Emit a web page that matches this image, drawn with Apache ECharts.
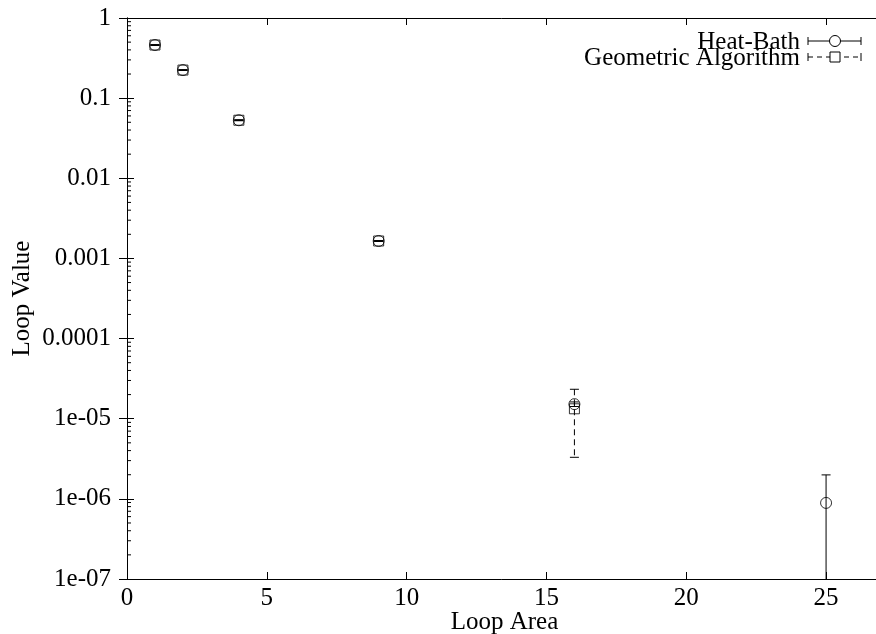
<!DOCTYPE html>
<html>
<head>
<meta charset="utf-8">
<script src="https://cdn.jsdelivr.net/npm/echarts@6/dist/echarts.min.js"></script>
<style>html,body{margin:0;padding:0;background:#fff;}#c{width:876px;height:634px;}</style>
</head>
<body>
<div id="c"></div>
<script>
// ---- data ----
var loopArea = [1, 2, 4, 9, 16, 25];
var heatBath = [0.46, 0.224, 0.053, 0.00165, 1.52e-5, 8.9e-7];
var heatBathErr = [0.004, 0.002, 0.0006, 0.00002, 0.1e-5, 1.1e-6];
var geoArea = [1, 2, 4, 9, 16];
var geometric = [0.46, 0.224, 0.053, 0.00165, 1.33e-5];
var geometricErr = [0.004, 0.002, 0.0006, 0.00002, 1.0e-5];
var xTicks = [0, 5, 10, 15, 20, 25];
var yTickLabels = ["1e-07", "1e-06", "1e-05", "0.0001", "0.001", "0.01", "0.1", "1"];
var minorMultipliers = [2, 3, 4, 5, 6, 7, 8, 9];

var xMin = 0, xMax = 27, yMin = 1e-7, yMax = 1;
var FONT = 'Liberation Serif';
var FS = 25;

function pairs(xs, ys) { return xs.map(function (x, i) { return [x, ys[i]]; }); }
function triples(xs, ys, es) { return xs.map(function (x, i) { return [x, ys[i], es[i]]; }); }

var minorVals = [];
for (var d = -7; d < 0; d++) {
  minorMultipliers.forEach(function (m) { minorVals.push([0, m * Math.pow(10, d)]); });
}

function errRenderer(dash) {
  return function (params, api) {
    var x = api.value(0), v = api.value(1), e = api.value(2);
    var hi = Math.min(v + e, yMax), lo = v - e;
    var clipped = lo <= yMin;
    var top = api.coord([x, hi]);
    var bot = api.coord([x, clipped ? yMin : lo]);
    var cw = 4.5;
    var st = { stroke: '#000', lineWidth: 1, lineDash: dash };
    var stc = { stroke: '#000', lineWidth: 1 };
    var ch = [
      { type: 'line', shape: { x1: top[0], y1: top[1], x2: bot[0], y2: bot[1] }, style: st },
      { type: 'line', shape: { x1: top[0] - cw, y1: top[1], x2: top[0] + cw, y2: top[1] }, style: stc }
    ];
    if (!clipped) ch.push({ type: 'line', shape: { x1: bot[0] - cw, y1: bot[1], x2: bot[0] + cw, y2: bot[1] }, style: stc });
    return { type: 'group', children: ch };
  };
}

function minorRender(params, api) {
  var v = api.value(1);
  var l = api.coord([xMin, v]);
  var r = api.coord([xMax, v]);
  var st = { stroke: '#000', lineWidth: 1 };
  return { type: 'group', children: [
    { type: 'line', shape: { x1: l[0], y1: l[1], x2: l[0] + 4, y2: l[1] }, style: st },
    { type: 'line', shape: { x1: r[0], y1: r[1], x2: r[0] - 4, y2: r[1] }, style: st }
  ] };
}

var axisTextStyle = { fontFamily: FONT, fontSize: FS, color: '#000' };
var lineStyle = { color: '#000', width: 1 };

var chart = echarts.init(document.getElementById('c'), null, { renderer: 'canvas' });
chart.setOption({
  animation: false,
  backgroundColor: '#fff',
  grid: { left: 127, top: 18, width: 755, bottom: 55, containLabel: false, outerBoundsMode: 'none' },
  xAxis: [
    {
      type: 'value', min: xMin, max: xMax, interval: 5, position: 'bottom',
      name: 'Loop Area', nameLocation: 'middle', nameGap: 31, nameMoveOverlap: false,
      nameTextStyle: axisTextStyle,
      axisLine: { show: true, lineStyle: lineStyle },
      axisTick: { show: true, inside: true, length: 7, lineStyle: lineStyle },
      axisLabel: { show: true, margin: 7, showMaxLabel: false, fontFamily: FONT, fontSize: FS, color: '#000',
        formatter: function (v) { var i = xTicks.indexOf(v); return i >= 0 ? String(xTicks[i]) : ''; } },
      splitLine: { show: false }
    },
    {
      type: 'value', min: xMin, max: xMax, interval: 5, position: 'top',
      axisLine: { show: true, lineStyle: lineStyle },
      axisTick: { show: true, inside: true, length: 7, lineStyle: lineStyle },
      axisLabel: { show: false },
      splitLine: { show: false }
    }
  ],
  yAxis: [
    {
      type: 'log', logBase: 10, min: yMin, max: yMax, interval: 1, position: 'left',
      name: 'Loop Value', nameLocation: 'middle', nameGap: 92, nameRotate: 90, nameMoveOverlap: false,
      nameTextStyle: axisTextStyle,
      axisLine: { show: true, lineStyle: lineStyle },
      axisTick: { show: true, inside: true, length: 7, lineStyle: lineStyle },
      axisLabel: { show: true, margin: 16, fontFamily: FONT, fontSize: FS, color: '#000',
        formatter: function (v) { return yTickLabels[Math.round(Math.log10(v)) + 7]; } },
      splitLine: { show: false }
    },
    {
      type: 'log', logBase: 10, min: yMin, max: yMax, interval: 1, position: 'right',
      axisLine: { show: true, lineStyle: lineStyle },
      axisTick: { show: true, inside: true, length: 8, lineStyle: lineStyle },
      axisLabel: { show: false },
      splitLine: { show: false }
    }
  ],
  series: [
    { type: 'custom', name: 'minor', renderItem: minorRender, data: minorVals, silent: true, clip: false, z: 1 },
    { type: 'custom', name: 'Heat-Bath err', renderItem: errRenderer(null), data: triples(loopArea, heatBath, heatBathErr), encode: { x: 0, y: 1 }, silent: true, z: 2 },
    { type: 'custom', name: 'Geometric err', renderItem: errRenderer([6, 4]), data: triples(geoArea, geometric, geometricErr), encode: { x: 0, y: 1 }, silent: true, z: 2 },
    { type: 'scatter', name: 'Heat-Bath', data: pairs(loopArea, heatBath), symbol: 'circle', symbolSize: 11,
      itemStyle: { color: 'rgba(0,0,0,0)', borderColor: '#000', borderWidth: 1 }, silent: true, z: 3 },
    { type: 'scatter', name: 'Geometric Algorithm', data: pairs(geoArea, geometric), symbol: 'rect', symbolSize: 10,
      itemStyle: { color: 'rgba(0,0,0,0)', borderColor: '#000', borderWidth: 1 }, silent: true, z: 3 }
  ],
  graphic: [
    { type: 'text', right: 76, top: 30, style: { text: 'Heat-Bath', fontFamily: FONT, fontSize: FS, fill: '#000', align: 'right' } },
    { type: 'line', shape: { x1: 808, y1: 41, x2: 861, y2: 41 }, style: { stroke: '#000', lineWidth: 1 } },
    { type: 'line', shape: { x1: 808, y1: 37, x2: 808, y2: 45 }, style: { stroke: '#000', lineWidth: 1 } },
    { type: 'line', shape: { x1: 861, y1: 37, x2: 861, y2: 45 }, style: { stroke: '#000', lineWidth: 1 } },
    { type: 'circle', shape: { cx: 835, cy: 41, r: 5.5 }, style: { stroke: '#000', fill: '#fff', lineWidth: 1 } },
    { type: 'text', right: 76, top: 46, style: { text: 'Geometric Algorithm', fontFamily: FONT, fontSize: FS, fill: '#000', align: 'right' } },
    { type: 'line', shape: { x1: 808, y1: 57, x2: 861, y2: 57 }, style: { stroke: '#000', lineWidth: 1, lineDash: [5, 4] } },
    { type: 'line', shape: { x1: 808, y1: 53, x2: 808, y2: 61 }, style: { stroke: '#000', lineWidth: 1 } },
    { type: 'line', shape: { x1: 861, y1: 53, x2: 861, y2: 61 }, style: { stroke: '#000', lineWidth: 1 } },
    { type: 'rect', shape: { x: 830, y: 52, width: 10, height: 10 }, style: { stroke: '#000', fill: '#fff', lineWidth: 1 } }
  ]
});
</script>
</body>
</html>
